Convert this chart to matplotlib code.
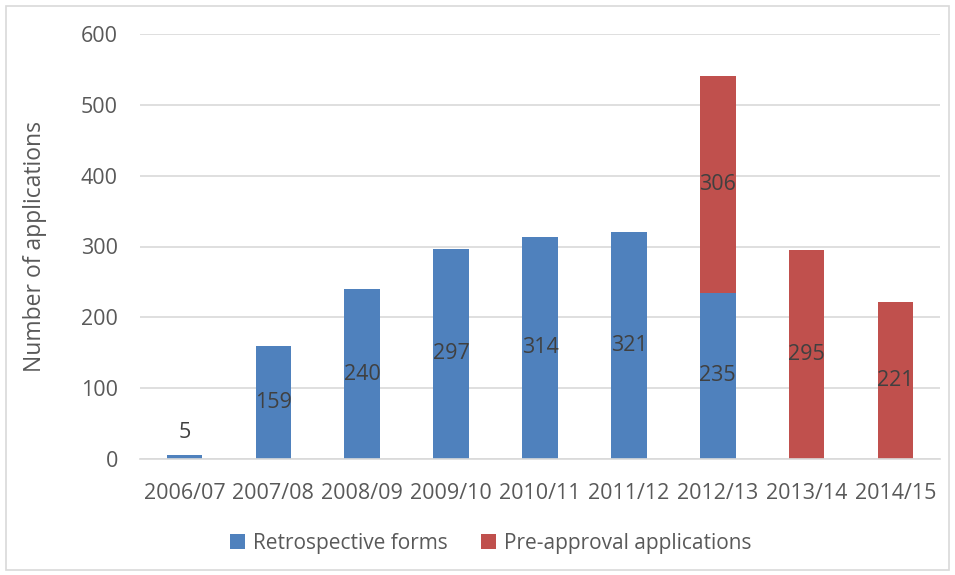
import numpy as np
import matplotlib.pyplot as plt
from matplotlib.patches import Rectangle

years = ["2006/07", "2007/08", "2008/09", "2009/10", "2010/11",
         "2011/12", "2012/13", "2013/14", "2014/15"]
retrospective = [5, 159, 240, 297, 314, 321, 235, 0, 0]
pre_approval = [0, 0, 0, 0, 0, 0, 306, 295, 221]

BLUE = "#4F81BD"
RED = "#C0504D"
TEXT = "#595959"
LABEL = "#404040"

plt.rcParams["font.family"] = ["Open Sans", "DejaVu Sans"]

fig = plt.figure(figsize=(9.55, 5.75), dpi=100)
ax = fig.add_axes([140 / 955, 1 - 459 / 575, 800 / 955, 425 / 575])

x = np.arange(len(years))
width = 0.4
ax.bar(x, retrospective, width, color=BLUE, label="Retrospective forms", zorder=3)
ax.bar(x, pre_approval, width, bottom=retrospective, color=RED,
       label="Pre-approval applications", zorder=3)

# data labels centred in each segment (tiny bar gets label above)
for i, (r, p) in enumerate(zip(retrospective, pre_approval)):
    if r > 0:
        y = r + 33 if r < 30 else r / 2
        ax.text(i, y, str(r), ha="center", va="center", fontsize=15.5, color=LABEL, zorder=4)
    if p > 0:
        ax.text(i, r + p / 2, str(p), ha="center", va="center", fontsize=15.5, color=LABEL, zorder=4)

ax.set_xlim(-0.5, len(years) - 0.5)
ax.set_ylim(0, 600)
ax.set_yticks(range(0, 601, 100))
ax.set_xticks(x)
ax.set_xticklabels(years)
ax.tick_params(axis="both", length=0, labelsize=15.5, labelcolor=TEXT)
ax.tick_params(axis="y", pad=16)
ax.tick_params(axis="x", pad=17)
ax.yaxis.grid(True, color="#D9D9D9", linewidth=1.2, zorder=0)
for side in ["top", "right", "left"]:
    ax.spines[side].set_visible(False)
ax.spines["bottom"].set_color("#D9D9D9")
ax.spines["bottom"].set_linewidth(1.2)
ax.spines["bottom"].set_zorder(3)

ax.set_ylabel("Number of applications", fontsize=16.5, color=TEXT, labelpad=24)

fig.legend(loc="center", bbox_to_anchor=(491 / 955, 1 - 543 / 575), ncol=2, frameon=False,
           fontsize=15, labelcolor=TEXT, handlelength=0.7, handleheight=0.7,
           handletextpad=0.4, columnspacing=1.6)

fig.patches.append(Rectangle((6 / 955, 5 / 575), 943 / 955, 564 / 575, transform=fig.transFigure,
                             fill=False, edgecolor="#D9D9D9", linewidth=1.2))

fig.savefig("out.png", dpi=100)
